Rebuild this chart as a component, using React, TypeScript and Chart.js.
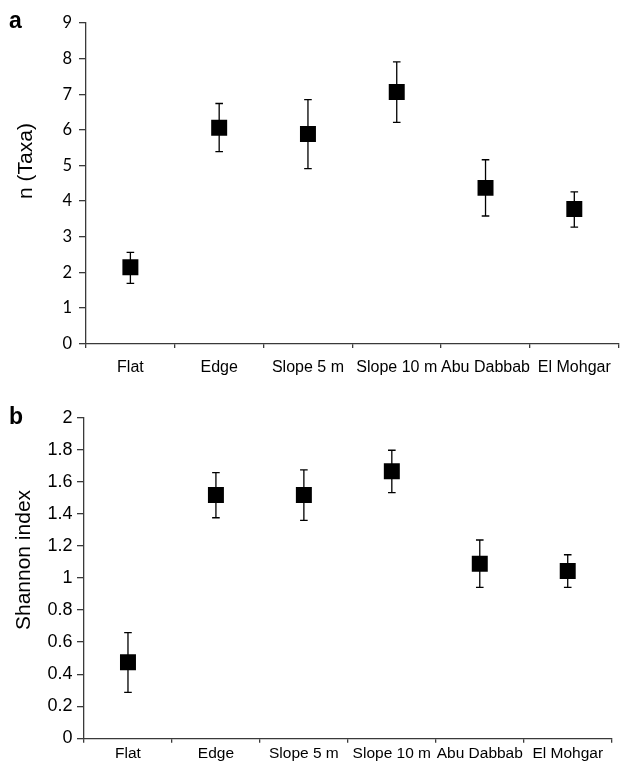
import React, { useEffect, useRef } from 'react';
import { Chart, registerables } from 'chart.js';

Chart.register(...registerables);

const categories = ['Flat', 'Edge', 'Slope 5 m', 'Slope 10 m', 'Abu Dabbab', 'El Mohgar'];

const taxaMean = [2.14, 6.06, 5.88, 7.06, 4.37, 3.78];
const taxaHigh = [2.56, 6.74, 6.85, 7.91, 5.16, 4.26];
const taxaLow = [1.69, 5.39, 4.91, 6.21, 3.58, 3.27];

const shannonMean = [0.474, 1.518, 1.518, 1.666, 1.089, 1.044];
const shannonHigh = [0.659, 1.657, 1.674, 1.797, 1.237, 1.145];
const shannonLow = [0.287, 1.376, 1.36, 1.532, 0.942, 0.942];

const taxaTicks = ['0', '1', '2', '3', '4', '5', '6', '7', '8', '9'];
const shannonTicks = ['0', '0.2', '0.4', '0.6', '0.8', '1', '1.2', '1.4', '1.6', '1.8', '2'];

const ARIAL = "'Liberation Sans', Arial, sans-serif";
const AXIS_COLOR = '#3a3a3a';

interface PanelSpec {
  letter: string;
  title: string;
  mean: number[];
  high: number[];
  low: number[];
  ticks: string[];
  yMax: number;
  yStep: number;
  height: number;
  padTop: number;
  padRight: number;
  yWidth: number;
  xHeight: number;
  yTickFont: { family: string; size: number };
  yTickPadding: number;
  xTickFont: { family: string; size: number };
  xTickPadding: number;
  letterPos: [number, number];
  titlePos: [number, number];
}

const panelA: PanelSpec = {
  letter: 'a',
  title: 'n (Taxa)',
  mean: taxaMean,
  high: taxaHigh,
  low: taxaLow,
  ticks: taxaTicks,
  yMax: 9,
  yStep: 1,
  height: 380,
  padTop: 23,
  padRight: 4,
  yWidth: 86,
  xHeight: 36.5,
  yTickFont: { family: "Lato, 'Open Sans', sans-serif", size: 16.5 },
  yTickPadding: 7,
  xTickFont: { family: ARIAL, size: 16 },
  xTickPadding: 9.5,
  letterPos: [9, 28],
  titlePos: [32, 161],
};

const panelB: PanelSpec = {
  letter: 'b',
  title: 'Shannon index',
  mean: shannonMean,
  high: shannonHigh,
  low: shannonLow,
  ticks: shannonTicks,
  yMax: 2,
  yStep: 0.2,
  height: 384,
  padTop: 37.7,
  padRight: 18.3,
  yWidth: 84,
  xHeight: 25.7,
  yTickFont: { family: ARIAL, size: 18 },
  yTickPadding: 4.5,
  xTickFont: { family: ARIAL, size: 15.5 },
  xTickPadding: 2,
  letterPos: [9, 44],
  titlePos: [30, 180],
};

function makeChart(canvas: HTMLCanvasElement, p: PanelSpec): Chart {
  const errorBars = {
    id: 'errorBars',
    beforeDatasetsDraw(chart: any) {
      const { ctx } = chart;
      const xs = chart.scales.x;
      const ys = chart.scales.y;
      ctx.save();
      ctx.strokeStyle = '#000';
      ctx.lineWidth = 1.3;
      const cap = 3.8;
      p.high.forEach((h, i) => {
        const px = xs.getPixelForValue(i);
        const pt = ys.getPixelForValue(h);
        const pb = ys.getPixelForValue(p.low[i]);
        ctx.beginPath();
        ctx.moveTo(px, pt);
        ctx.lineTo(px, pb);
        ctx.moveTo(px - cap, pt);
        ctx.lineTo(px + cap, pt);
        ctx.moveTo(px - cap, pb);
        ctx.lineTo(px + cap, pb);
        ctx.stroke();
      });
      ctx.restore();
    },
  };

  const labels = {
    id: 'panelLabels',
    afterDraw(chart: any) {
      const { ctx } = chart;
      ctx.save();
      ctx.fillStyle = '#000';
      ctx.font = `bold 23px ${ARIAL}`;
      ctx.textAlign = 'left';
      ctx.textBaseline = 'alphabetic';
      ctx.fillText(p.letter, p.letterPos[0], p.letterPos[1]);
      ctx.font = `21px ${ARIAL}`;
      ctx.translate(p.titlePos[0], p.titlePos[1]);
      ctx.rotate(-Math.PI / 2);
      ctx.textAlign = 'center';
      ctx.fillText(p.title, 0, 0);
      ctx.restore();
    },
  };

  return new Chart(canvas, {
    type: 'line',
    data: {
      labels: categories,
      datasets: [
        {
          data: p.mean,
          showLine: false,
          pointStyle: 'rect',
          pointRadius: 11.3,
          pointHoverRadius: 11.3,
          pointBackgroundColor: '#000',
          pointBorderWidth: 0,
          borderColor: '#000',
        },
      ],
    },
    options: {
      responsive: false,
      animation: false,
      events: [],
      layout: { padding: { left: 0, top: p.padTop, right: p.padRight, bottom: 0 } },
      plugins: { legend: { display: false }, tooltip: { enabled: false } },
      scales: {
        x: {
          type: 'category',
          offset: true,
          grid: {
            offset: true,
            drawOnChartArea: false,
            drawTicks: true,
            tickLength: 4.5,
            color: AXIS_COLOR,
            lineWidth: 1.3,
          },
          border: { display: true, color: AXIS_COLOR, width: 1.3 },
          ticks: {
            color: '#000',
            font: p.xTickFont,
            padding: p.xTickPadding,
            autoSkip: false,
            maxRotation: 0,
            minRotation: 0,
          },
          afterFit: (scale: any) => {
            scale.height = p.xHeight;
          },
        },
        y: {
          type: 'linear',
          min: 0,
          max: p.yMax,
          grid: {
            drawOnChartArea: false,
            drawTicks: true,
            tickLength: 7,
            color: AXIS_COLOR,
            lineWidth: 1.3,
          },
          border: { display: true, color: AXIS_COLOR, width: 1.3 },
          ticks: {
            stepSize: p.yStep,
            color: '#000',
            font: p.yTickFont,
            padding: p.yTickPadding,
            callback: (_v: any, i: number) => p.ticks[i],
          },
          afterFit: (scale: any) => {
            scale.width = p.yWidth;
          },
        },
      },
    },
    plugins: [errorBars, labels],
  } as any);
}

export default function App() {
  const refA = useRef<HTMLCanvasElement>(null);
  const refB = useRef<HTMLCanvasElement>(null);

  useEffect(() => {
    const a = makeChart(refA.current!, panelA);
    const b = makeChart(refB.current!, panelB);
    return () => {
      a.destroy();
      b.destroy();
    };
  }, []);

  return (
    <div style={{ position: 'absolute', left: 0, top: 0, width: 630, height: 764, background: '#fff' }}>
      <canvas
        ref={refA}
        width={630}
        height={panelA.height}
        style={{ position: 'absolute', left: 0, top: 0, width: 630, height: panelA.height }}
      />
      <canvas
        ref={refB}
        width={630}
        height={panelB.height}
        style={{ position: 'absolute', left: 0, top: panelA.height, width: 630, height: panelB.height }}
      />
    </div>
  );
}
